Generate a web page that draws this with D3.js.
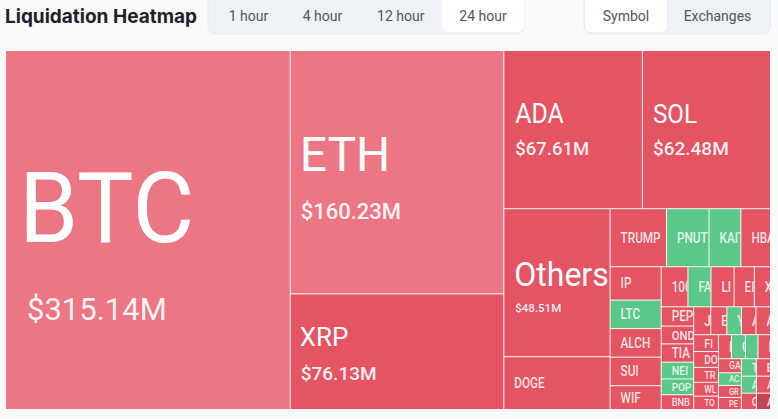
<!DOCTYPE html>
<html>
<head>
<meta charset="utf-8">
<script src="https://d3js.org/d3.v7.min.js"></script>
<style>
html, body { margin: 0; padding: 0; background: #fafafa; overflow: hidden; }
text { font-family: Roboto, sans-serif; }
</style>
</head>
<body>
<svg id="chart" width="778" height="419"></svg>
<script>
// all amounts in $M, small ones
const symbols = ["BTC", "ETH", "XRP", "ADA", "SOL", "Others", "DOGE",
    "TRUMP", "PNUT", "KAIT", "HBA",
    "IP", "LTC", "ALCH", "SUI", "WIF",
    "100", "FA", "LI", "EI", "X",
    "PEP", "OND", "TIA", "NEI", "POP", "BNB",
    "J", "E", "Y", "A", "A",
    "FI", "DO", "TR", "WL", "TO",
    "I", "C", "1", "I",
    "GA", "AC", "GR", "PE",
    "T", "E", "A", "A", "O", "A"];
const values = [315.14, 160.23, 76.13, 67.61, 62.48, 48.51, 17.3,
    10.1, 7.6, 5.7, 5.3,
    5.25, 4.5, 4.5, 4.5, 3.75,
    3.3, 2.85, 2.85, 2.5, 2.0,
    1.93, 1.78, 1.83, 1.68, 1.58, 1.48,
    1.47, 1.38, 1.25, 1.25, 1.25,
    1.29, 1.21, 1.14, 1.06, 1.02,
    0.96, 1.04, 0.93, 0.93,
    0.99, 0.89, 0.85, 0.85,
    0.81, 0.76, 0.79, 0.74, 0.76, 0.71];
const tones = ["light", "light", "red", "red", "red", "red", "red",
    "red", "green", "green", "red",
    "red", "green", "red", "red", "red",
    "red", "green", "red", "red", "red",
    "red", "red", "red", "green", "green", "red",
    "red", "red", "green", "red", "red",
    "red", "red", "red", "red", "red",
    "red", "green", "green", "red",
    "red", "green", "red", "red",
    "green", "red", "green", "red", "red", "dark"];
// nesting of the treemap, leaves are indexes into the arrays above
const nesting = [0, [1, 2], [[3, 4], [[5, 6], [[7, 8, 9, 10], [[11, 12, 13, 14, 15],
    [[16, 17, 18, 19, 20], [[21, 22, 23, 24, 25, 26], [[27, 28, 29, 30, 31], [[32, 33, 34, 35, 36],
    [[37, 38, 39, 40], [[41, 42, 43, 44], [[45, 46], [47, 48], [49, 50]]]]]]]]]]]]];
const ranges = ["1 hour", "4 hour", "12 hour", "24 hour"];
const modes = ["Symbol", "Exchanges"];

const svg = d3.select("#chart");
const color = d3.scaleOrdinal()
    .domain(["light", "red", "green", "dark"])
    .range(["#ec7683", "#e55463", "#5bc88a", "#c44552"]);

// big cells have their own type sizes, dy is measured from the cell top
const big = {
    BTC: { size: 98, sx: 0.97, x: 13, dy: 191, vsize: 31, vx: 21, vdy: 269 },
    ETH: { size: 48, sx: 1, x: 9, dy: 120, vsize: 22, vx: 10, vdy: 168 },
    XRP: { size: 26, sx: 1, x: 9, dy: 52, vsize: 19, vx: 10, vdy: 86 },
    ADA: { size: 27, sx: 0.92, x: 11, dy: 72, vsize: 18.5, vx: 11, vdy: 104 },
    SOL: { size: 26, sx: 0.93, x: 10, dy: 72, vsize: 19, vx: 10, vdy: 104 },
    Others: { size: 33, sx: 0.97, x: 10, dy: 77, vsize: 11.5, vx: 11, vdy: 102.5 }
};

// header
svg.append("text").attr("x", 5).attr("y", 23)
    .attr("font-size", 19).attr("font-weight", 700).attr("fill", "#1d2129")
    .style("font-family", "Inter, sans-serif")
    .text("Liquidation Heatmap");

function tabs(labels, x0, x1, start, widths, active) {
    const g = svg.append("g");
    g.append("rect").attr("x", x0).attr("y", -10).attr("width", x1 - x0).attr("height", 44)
        .attr("rx", 8).attr("fill", "#eef1f5").attr("stroke", "#e7eaef");
    let x = start;
    labels.forEach(function (d, i) {
        if (i == active) {
            g.append("rect").attr("x", x).attr("y", -10).attr("width", widths[i]).attr("height", 42)
                .attr("rx", 6).attr("fill", "#fff");
        }
        g.append("text").attr("x", x + widths[i] / 2).attr("y", 21)
            .attr("text-anchor", "middle").attr("font-size", 14).attr("fill", "#50565f")
            .text(d);
        x += widths[i];
    });
}
tabs(ranges, 208, 524, 211.5, [74, 74, 82.5, 82], 3);
tabs(modes, 584, 770.5, 585, [82, 101], 0);

// treemap: alternate dice and slice on each level
function nest(item) {
    return Array.isArray(item) ? { children: item.map(nest) } : { index: item, value: values[item] };
}
const root = d3.hierarchy(nest(nesting)).sum(function (d) { return d.value || 0; });

d3.treemap()
    .size([764, 358])
    .paddingInner(1)
    .round(false)
    .tile(function (node, x0, y0, x1, y1) {
        (node.depth % 2 == 0 ? d3.treemapDice : d3.treemapSlice)(node, x0, y0, x1, y1);
    })(root);

const cell = svg.append("g").attr("transform", "translate(6,51)")
    .selectAll("g")
    .data(root.leaves())
    .join("g")
    .attr("transform", function (d) { return "translate(" + d.x0 + "," + d.y0 + ")"; });

cell.append("clipPath")
    .attr("id", function (d) { return "clip" + d.data.index; })
    .append("rect")
    .attr("width", function (d) { return d.x1 - d.x0; })
    .attr("height", function (d) { return d.y1 - d.y0; });

cell.append("rect")
    .attr("width", function (d) { return d.x1 - d.x0; })
    .attr("height", function (d) { return d.y1 - d.y0; })
    .attr("fill", function (d) { return color(tones[d.data.index]); });

const inner = cell.append("g")
    .attr("clip-path", function (d) { return "url(#clip" + d.data.index + ")"; });

function bigOf(d) {
    return big[symbols[d.data.index]];
}

// small labels shrink with the cell so they stay inside it
function smallSize(d) {
    return Math.min(14, (d.y1 - d.y0) * 0.8);
}

inner.append("text")
    .attr("fill", "#fff")
    .attr("fill-opacity", function (d) { return bigOf(d) ? 1 : 0.85; })
    .attr("font-weight", function (d) { return bigOf(d) ? 400 : 500; })
    .attr("font-size", function (d) { return bigOf(d) ? bigOf(d).size : smallSize(d); })
    .attr("transform", function (d) {
        const b = bigOf(d);
        if (b) return "translate(" + b.x + "," + b.dy + ") scale(" + b.sx + ",1)";
        return "translate(10," + ((d.y1 - d.y0) / 2 + smallSize(d) * 0.36) + ") scale(0.84,1)";
    })
    .text(function (d) { return symbols[d.data.index]; });

inner.filter(bigOf)
    .append("text")
    .attr("fill", "#fff")
    .attr("fill-opacity", 0.92)
    .attr("font-weight", function (d) { return bigOf(d).vsize > 25 ? 400 : 500; })
    .attr("font-size", function (d) { return bigOf(d).vsize; })
    .attr("x", function (d) { return bigOf(d).vx; })
    .attr("y", function (d) { return bigOf(d).vdy; })
    .text(function (d) { return "$" + d3.format(".2f")(values[d.data.index]) + "M"; });
</script>
</body>
</html>
